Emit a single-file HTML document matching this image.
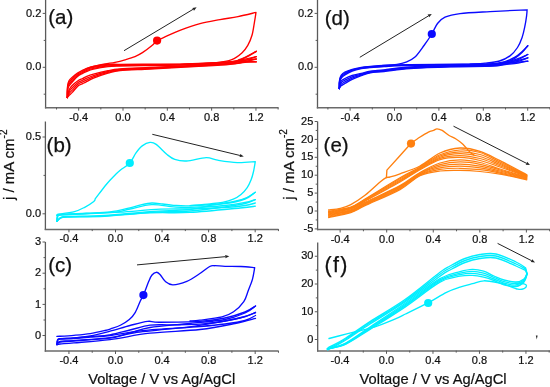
<!DOCTYPE html>
<html><head><meta charset="utf-8"><style>
html,body{margin:0;padding:0;background:#fff;width:550px;height:387px;overflow:hidden;position:relative;font-family:"Liberation Sans", sans-serif;}
</style></head><body>
<svg width="550" height="387" viewBox="0 0 550 387" style="position:absolute;left:0;top:0;will-change:transform" font-family='"Liberation Sans", sans-serif' fill="#111">
<line x1="45.60" y1="0.00" x2="45.60" y2="108.40" stroke="#5a5a5a" stroke-width="1.3"/>
<line x1="44.90" y1="107.80" x2="278.50" y2="107.80" stroke="#6a6a6a" stroke-width="1.5"/>
<line x1="42.70" y1="13.40" x2="45.50" y2="13.40" stroke="#5a5a5a" stroke-width="1"/>
<text x="41.30" y="16.50" font-size="11.00" text-anchor="end" stroke="#111" stroke-width="0.22">0.2</text>
<line x1="42.70" y1="67.30" x2="45.50" y2="67.30" stroke="#5a5a5a" stroke-width="1"/>
<text x="41.30" y="70.40" font-size="11.00" text-anchor="end" stroke="#111" stroke-width="0.22">0.0</text>
<line x1="43.70" y1="40.40" x2="45.50" y2="40.40" stroke="#5a5a5a" stroke-width="1"/>
<line x1="43.70" y1="94.20" x2="45.50" y2="94.20" stroke="#5a5a5a" stroke-width="1"/>
<line x1="56.52" y1="107.50" x2="56.52" y2="109.50" stroke="#5a5a5a" stroke-width="1"/>
<line x1="78.68" y1="107.50" x2="78.68" y2="110.70" stroke="#5a5a5a" stroke-width="1"/>
<text x="78.68" y="120.70" font-size="11.00" text-anchor="middle" stroke="#111" stroke-width="0.22">-0.4</text>
<line x1="100.84" y1="107.50" x2="100.84" y2="109.50" stroke="#5a5a5a" stroke-width="1"/>
<line x1="123.00" y1="107.50" x2="123.00" y2="110.70" stroke="#5a5a5a" stroke-width="1"/>
<text x="123.00" y="120.70" font-size="11.00" text-anchor="middle" stroke="#111" stroke-width="0.22">0.0</text>
<line x1="145.16" y1="107.50" x2="145.16" y2="109.50" stroke="#5a5a5a" stroke-width="1"/>
<line x1="167.32" y1="107.50" x2="167.32" y2="110.70" stroke="#5a5a5a" stroke-width="1"/>
<text x="167.32" y="120.70" font-size="11.00" text-anchor="middle" stroke="#111" stroke-width="0.22">0.4</text>
<line x1="189.48" y1="107.50" x2="189.48" y2="109.50" stroke="#5a5a5a" stroke-width="1"/>
<line x1="211.64" y1="107.50" x2="211.64" y2="110.70" stroke="#5a5a5a" stroke-width="1"/>
<text x="211.64" y="120.70" font-size="11.00" text-anchor="middle" stroke="#111" stroke-width="0.22">0.8</text>
<line x1="233.80" y1="107.50" x2="233.80" y2="109.50" stroke="#5a5a5a" stroke-width="1"/>
<line x1="255.96" y1="107.50" x2="255.96" y2="110.70" stroke="#5a5a5a" stroke-width="1"/>
<text x="255.96" y="120.70" font-size="11.00" text-anchor="middle" stroke="#111" stroke-width="0.22">1.2</text>
<line x1="278.12" y1="107.50" x2="278.12" y2="109.50" stroke="#5a5a5a" stroke-width="1"/>
<line x1="45.40" y1="121.50" x2="45.40" y2="230.00" stroke="#5a5a5a" stroke-width="1.3"/>
<line x1="44.70" y1="229.40" x2="278.50" y2="229.40" stroke="#6a6a6a" stroke-width="1.5"/>
<line x1="42.50" y1="137.00" x2="45.30" y2="137.00" stroke="#5a5a5a" stroke-width="1"/>
<text x="41.10" y="140.10" font-size="11.00" text-anchor="end" stroke="#111" stroke-width="0.22">0.5</text>
<line x1="42.50" y1="213.80" x2="45.30" y2="213.80" stroke="#5a5a5a" stroke-width="1"/>
<text x="41.10" y="216.90" font-size="11.00" text-anchor="end" stroke="#111" stroke-width="0.22">0.0</text>
<line x1="43.50" y1="175.40" x2="45.30" y2="175.40" stroke="#5a5a5a" stroke-width="1"/>
<line x1="68.94" y1="229.10" x2="68.94" y2="232.30" stroke="#5a5a5a" stroke-width="1"/>
<text x="68.94" y="242.30" font-size="11.00" text-anchor="middle" stroke="#111" stroke-width="0.22">-0.4</text>
<line x1="92.22" y1="229.10" x2="92.22" y2="231.10" stroke="#5a5a5a" stroke-width="1"/>
<line x1="115.50" y1="229.10" x2="115.50" y2="232.30" stroke="#5a5a5a" stroke-width="1"/>
<text x="115.50" y="242.30" font-size="11.00" text-anchor="middle" stroke="#111" stroke-width="0.22">0.0</text>
<line x1="138.78" y1="229.10" x2="138.78" y2="231.10" stroke="#5a5a5a" stroke-width="1"/>
<line x1="162.06" y1="229.10" x2="162.06" y2="232.30" stroke="#5a5a5a" stroke-width="1"/>
<text x="162.06" y="242.30" font-size="11.00" text-anchor="middle" stroke="#111" stroke-width="0.22">0.4</text>
<line x1="185.34" y1="229.10" x2="185.34" y2="231.10" stroke="#5a5a5a" stroke-width="1"/>
<line x1="208.62" y1="229.10" x2="208.62" y2="232.30" stroke="#5a5a5a" stroke-width="1"/>
<text x="208.62" y="242.30" font-size="11.00" text-anchor="middle" stroke="#111" stroke-width="0.22">0.8</text>
<line x1="231.90" y1="229.10" x2="231.90" y2="231.10" stroke="#5a5a5a" stroke-width="1"/>
<line x1="255.18" y1="229.10" x2="255.18" y2="232.30" stroke="#5a5a5a" stroke-width="1"/>
<text x="255.18" y="242.30" font-size="11.00" text-anchor="middle" stroke="#111" stroke-width="0.22">1.2</text>
<line x1="278.46" y1="229.10" x2="278.46" y2="231.10" stroke="#5a5a5a" stroke-width="1"/>
<line x1="45.40" y1="242.00" x2="45.40" y2="351.70" stroke="#5a5a5a" stroke-width="1.3"/>
<line x1="44.70" y1="351.10" x2="278.50" y2="351.10" stroke="#6a6a6a" stroke-width="1.5"/>
<line x1="42.50" y1="242.00" x2="45.30" y2="242.00" stroke="#5a5a5a" stroke-width="1"/>
<text x="41.10" y="245.10" font-size="11.00" text-anchor="end" stroke="#111" stroke-width="0.22">3</text>
<line x1="42.50" y1="273.20" x2="45.30" y2="273.20" stroke="#5a5a5a" stroke-width="1"/>
<text x="41.10" y="276.30" font-size="11.00" text-anchor="end" stroke="#111" stroke-width="0.22">2</text>
<line x1="42.50" y1="304.40" x2="45.30" y2="304.40" stroke="#5a5a5a" stroke-width="1"/>
<text x="41.10" y="307.50" font-size="11.00" text-anchor="end" stroke="#111" stroke-width="0.22">1</text>
<line x1="42.50" y1="335.50" x2="45.30" y2="335.50" stroke="#5a5a5a" stroke-width="1"/>
<text x="41.10" y="338.60" font-size="11.00" text-anchor="end" stroke="#111" stroke-width="0.22">0</text>
<line x1="43.50" y1="257.60" x2="45.30" y2="257.60" stroke="#5a5a5a" stroke-width="1"/>
<line x1="43.50" y1="288.80" x2="45.30" y2="288.80" stroke="#5a5a5a" stroke-width="1"/>
<line x1="43.50" y1="320.00" x2="45.30" y2="320.00" stroke="#5a5a5a" stroke-width="1"/>
<line x1="68.94" y1="350.80" x2="68.94" y2="354.00" stroke="#5a5a5a" stroke-width="1"/>
<text x="68.94" y="364.00" font-size="11.00" text-anchor="middle" stroke="#111" stroke-width="0.22">-0.4</text>
<line x1="92.22" y1="350.80" x2="92.22" y2="352.80" stroke="#5a5a5a" stroke-width="1"/>
<line x1="115.50" y1="350.80" x2="115.50" y2="354.00" stroke="#5a5a5a" stroke-width="1"/>
<text x="115.50" y="364.00" font-size="11.00" text-anchor="middle" stroke="#111" stroke-width="0.22">0.0</text>
<line x1="138.78" y1="350.80" x2="138.78" y2="352.80" stroke="#5a5a5a" stroke-width="1"/>
<line x1="162.06" y1="350.80" x2="162.06" y2="354.00" stroke="#5a5a5a" stroke-width="1"/>
<text x="162.06" y="364.00" font-size="11.00" text-anchor="middle" stroke="#111" stroke-width="0.22">0.4</text>
<line x1="185.34" y1="350.80" x2="185.34" y2="352.80" stroke="#5a5a5a" stroke-width="1"/>
<line x1="208.62" y1="350.80" x2="208.62" y2="354.00" stroke="#5a5a5a" stroke-width="1"/>
<text x="208.62" y="364.00" font-size="11.00" text-anchor="middle" stroke="#111" stroke-width="0.22">0.8</text>
<line x1="231.90" y1="350.80" x2="231.90" y2="352.80" stroke="#5a5a5a" stroke-width="1"/>
<line x1="255.18" y1="350.80" x2="255.18" y2="354.00" stroke="#5a5a5a" stroke-width="1"/>
<text x="255.18" y="364.00" font-size="11.00" text-anchor="middle" stroke="#111" stroke-width="0.22">1.2</text>
<line x1="278.46" y1="350.80" x2="278.46" y2="352.80" stroke="#5a5a5a" stroke-width="1"/>
<line x1="317.50" y1="0.00" x2="317.50" y2="108.40" stroke="#5a5a5a" stroke-width="1.3"/>
<line x1="316.80" y1="107.80" x2="550.00" y2="107.80" stroke="#6a6a6a" stroke-width="1.5"/>
<line x1="314.60" y1="13.40" x2="317.40" y2="13.40" stroke="#5a5a5a" stroke-width="1"/>
<text x="313.20" y="16.50" font-size="11.00" text-anchor="end" stroke="#111" stroke-width="0.22">0.2</text>
<line x1="314.60" y1="67.30" x2="317.40" y2="67.30" stroke="#5a5a5a" stroke-width="1"/>
<text x="313.20" y="70.40" font-size="11.00" text-anchor="end" stroke="#111" stroke-width="0.22">0.0</text>
<line x1="315.60" y1="40.40" x2="317.40" y2="40.40" stroke="#5a5a5a" stroke-width="1"/>
<line x1="315.60" y1="94.20" x2="317.40" y2="94.20" stroke="#5a5a5a" stroke-width="1"/>
<line x1="327.90" y1="107.50" x2="327.90" y2="109.50" stroke="#5a5a5a" stroke-width="1"/>
<line x1="350.10" y1="107.50" x2="350.10" y2="110.70" stroke="#5a5a5a" stroke-width="1"/>
<text x="350.10" y="120.70" font-size="11.00" text-anchor="middle" stroke="#111" stroke-width="0.22">-0.4</text>
<line x1="372.30" y1="107.50" x2="372.30" y2="109.50" stroke="#5a5a5a" stroke-width="1"/>
<line x1="394.50" y1="107.50" x2="394.50" y2="110.70" stroke="#5a5a5a" stroke-width="1"/>
<text x="394.50" y="120.70" font-size="11.00" text-anchor="middle" stroke="#111" stroke-width="0.22">0.0</text>
<line x1="416.70" y1="107.50" x2="416.70" y2="109.50" stroke="#5a5a5a" stroke-width="1"/>
<line x1="438.90" y1="107.50" x2="438.90" y2="110.70" stroke="#5a5a5a" stroke-width="1"/>
<text x="438.90" y="120.70" font-size="11.00" text-anchor="middle" stroke="#111" stroke-width="0.22">0.4</text>
<line x1="461.10" y1="107.50" x2="461.10" y2="109.50" stroke="#5a5a5a" stroke-width="1"/>
<line x1="483.30" y1="107.50" x2="483.30" y2="110.70" stroke="#5a5a5a" stroke-width="1"/>
<text x="483.30" y="120.70" font-size="11.00" text-anchor="middle" stroke="#111" stroke-width="0.22">0.8</text>
<line x1="505.50" y1="107.50" x2="505.50" y2="109.50" stroke="#5a5a5a" stroke-width="1"/>
<line x1="527.70" y1="107.50" x2="527.70" y2="110.70" stroke="#5a5a5a" stroke-width="1"/>
<text x="527.70" y="120.70" font-size="11.00" text-anchor="middle" stroke="#111" stroke-width="0.22">1.2</text>
<line x1="549.90" y1="107.50" x2="549.90" y2="109.50" stroke="#5a5a5a" stroke-width="1"/>
<line x1="317.60" y1="121.50" x2="317.60" y2="230.20" stroke="#5a5a5a" stroke-width="1.3"/>
<line x1="316.90" y1="229.60" x2="550.00" y2="229.60" stroke="#6a6a6a" stroke-width="1.5"/>
<line x1="314.70" y1="121.50" x2="317.50" y2="121.50" stroke="#5a5a5a" stroke-width="1"/>
<text x="313.30" y="124.60" font-size="11.00" text-anchor="end" stroke="#111" stroke-width="0.22">25</text>
<line x1="314.70" y1="139.40" x2="317.50" y2="139.40" stroke="#5a5a5a" stroke-width="1"/>
<text x="313.30" y="142.50" font-size="11.00" text-anchor="end" stroke="#111" stroke-width="0.22">20</text>
<line x1="314.70" y1="157.30" x2="317.50" y2="157.30" stroke="#5a5a5a" stroke-width="1"/>
<text x="313.30" y="160.40" font-size="11.00" text-anchor="end" stroke="#111" stroke-width="0.22">15</text>
<line x1="314.70" y1="175.20" x2="317.50" y2="175.20" stroke="#5a5a5a" stroke-width="1"/>
<text x="313.30" y="178.30" font-size="11.00" text-anchor="end" stroke="#111" stroke-width="0.22">10</text>
<line x1="314.70" y1="193.10" x2="317.50" y2="193.10" stroke="#5a5a5a" stroke-width="1"/>
<text x="313.30" y="196.20" font-size="11.00" text-anchor="end" stroke="#111" stroke-width="0.22">5</text>
<line x1="314.70" y1="211.00" x2="317.50" y2="211.00" stroke="#5a5a5a" stroke-width="1"/>
<text x="313.30" y="214.10" font-size="11.00" text-anchor="end" stroke="#111" stroke-width="0.22">0</text>
<line x1="314.70" y1="228.90" x2="317.50" y2="228.90" stroke="#5a5a5a" stroke-width="1"/>
<text x="313.30" y="232.00" font-size="11.00" text-anchor="end" stroke="#111" stroke-width="0.22">-5</text>
<line x1="315.70" y1="130.45" x2="317.50" y2="130.45" stroke="#5a5a5a" stroke-width="1"/>
<line x1="315.70" y1="148.35" x2="317.50" y2="148.35" stroke="#5a5a5a" stroke-width="1"/>
<line x1="315.70" y1="166.25" x2="317.50" y2="166.25" stroke="#5a5a5a" stroke-width="1"/>
<line x1="315.70" y1="184.15" x2="317.50" y2="184.15" stroke="#5a5a5a" stroke-width="1"/>
<line x1="315.70" y1="202.05" x2="317.50" y2="202.05" stroke="#5a5a5a" stroke-width="1"/>
<line x1="315.70" y1="219.95" x2="317.50" y2="219.95" stroke="#5a5a5a" stroke-width="1"/>
<line x1="340.14" y1="229.30" x2="340.14" y2="232.50" stroke="#5a5a5a" stroke-width="1"/>
<text x="340.14" y="242.50" font-size="11.00" text-anchor="middle" stroke="#111" stroke-width="0.22">-0.4</text>
<line x1="363.42" y1="229.30" x2="363.42" y2="231.30" stroke="#5a5a5a" stroke-width="1"/>
<line x1="386.70" y1="229.30" x2="386.70" y2="232.50" stroke="#5a5a5a" stroke-width="1"/>
<text x="386.70" y="242.50" font-size="11.00" text-anchor="middle" stroke="#111" stroke-width="0.22">0.0</text>
<line x1="409.98" y1="229.30" x2="409.98" y2="231.30" stroke="#5a5a5a" stroke-width="1"/>
<line x1="433.26" y1="229.30" x2="433.26" y2="232.50" stroke="#5a5a5a" stroke-width="1"/>
<text x="433.26" y="242.50" font-size="11.00" text-anchor="middle" stroke="#111" stroke-width="0.22">0.4</text>
<line x1="456.54" y1="229.30" x2="456.54" y2="231.30" stroke="#5a5a5a" stroke-width="1"/>
<line x1="479.82" y1="229.30" x2="479.82" y2="232.50" stroke="#5a5a5a" stroke-width="1"/>
<text x="479.82" y="242.50" font-size="11.00" text-anchor="middle" stroke="#111" stroke-width="0.22">0.8</text>
<line x1="503.10" y1="229.30" x2="503.10" y2="231.30" stroke="#5a5a5a" stroke-width="1"/>
<line x1="526.38" y1="229.30" x2="526.38" y2="232.50" stroke="#5a5a5a" stroke-width="1"/>
<text x="526.38" y="242.50" font-size="11.00" text-anchor="middle" stroke="#111" stroke-width="0.22">1.2</text>
<line x1="549.66" y1="229.30" x2="549.66" y2="231.30" stroke="#5a5a5a" stroke-width="1"/>
<line x1="317.70" y1="242.60" x2="317.70" y2="351.50" stroke="#5a5a5a" stroke-width="1.3"/>
<line x1="317.00" y1="350.90" x2="550.00" y2="350.90" stroke="#6a6a6a" stroke-width="1.5"/>
<line x1="314.80" y1="256.25" x2="317.60" y2="256.25" stroke="#5a5a5a" stroke-width="1"/>
<text x="313.40" y="259.35" font-size="11.00" text-anchor="end" stroke="#111" stroke-width="0.22">30</text>
<line x1="314.80" y1="284.00" x2="317.60" y2="284.00" stroke="#5a5a5a" stroke-width="1"/>
<text x="313.40" y="287.10" font-size="11.00" text-anchor="end" stroke="#111" stroke-width="0.22">20</text>
<line x1="314.80" y1="311.75" x2="317.60" y2="311.75" stroke="#5a5a5a" stroke-width="1"/>
<text x="313.40" y="314.85" font-size="11.00" text-anchor="end" stroke="#111" stroke-width="0.22">10</text>
<line x1="314.80" y1="339.50" x2="317.60" y2="339.50" stroke="#5a5a5a" stroke-width="1"/>
<text x="313.40" y="342.60" font-size="11.00" text-anchor="end" stroke="#111" stroke-width="0.22">0</text>
<line x1="315.80" y1="270.12" x2="317.60" y2="270.12" stroke="#5a5a5a" stroke-width="1"/>
<line x1="315.80" y1="297.88" x2="317.60" y2="297.88" stroke="#5a5a5a" stroke-width="1"/>
<line x1="315.80" y1="325.62" x2="317.60" y2="325.62" stroke="#5a5a5a" stroke-width="1"/>
<line x1="340.02" y1="350.60" x2="340.02" y2="353.80" stroke="#5a5a5a" stroke-width="1"/>
<text x="340.02" y="363.80" font-size="11.00" text-anchor="middle" stroke="#111" stroke-width="0.22">-0.4</text>
<line x1="363.26" y1="350.60" x2="363.26" y2="352.60" stroke="#5a5a5a" stroke-width="1"/>
<line x1="386.50" y1="350.60" x2="386.50" y2="353.80" stroke="#5a5a5a" stroke-width="1"/>
<text x="386.50" y="363.80" font-size="11.00" text-anchor="middle" stroke="#111" stroke-width="0.22">0.0</text>
<line x1="409.74" y1="350.60" x2="409.74" y2="352.60" stroke="#5a5a5a" stroke-width="1"/>
<line x1="432.98" y1="350.60" x2="432.98" y2="353.80" stroke="#5a5a5a" stroke-width="1"/>
<text x="432.98" y="363.80" font-size="11.00" text-anchor="middle" stroke="#111" stroke-width="0.22">0.4</text>
<line x1="456.22" y1="350.60" x2="456.22" y2="352.60" stroke="#5a5a5a" stroke-width="1"/>
<line x1="479.46" y1="350.60" x2="479.46" y2="353.80" stroke="#5a5a5a" stroke-width="1"/>
<text x="479.46" y="363.80" font-size="11.00" text-anchor="middle" stroke="#111" stroke-width="0.22">0.8</text>
<line x1="502.70" y1="350.60" x2="502.70" y2="352.60" stroke="#5a5a5a" stroke-width="1"/>
<line x1="525.94" y1="350.60" x2="525.94" y2="353.80" stroke="#5a5a5a" stroke-width="1"/>
<text x="525.94" y="363.80" font-size="11.00" text-anchor="middle" stroke="#111" stroke-width="0.22">1.2</text>
<line x1="549.18" y1="350.60" x2="549.18" y2="352.60" stroke="#5a5a5a" stroke-width="1"/>
<text x="48.20" y="24.20" font-size="20.50" text-anchor="start" stroke="#111" stroke-width="0.25">(a)</text>
<text x="46.60" y="152.00" font-size="20.50" text-anchor="start" stroke="#111" stroke-width="0.25">(b)</text>
<text x="48.20" y="272.00" font-size="20.50" text-anchor="start" stroke="#111" stroke-width="0.25">(c)</text>
<text x="324.70" y="24.50" font-size="20.50" text-anchor="start" stroke="#111" stroke-width="0.25">(d)</text>
<text x="323.60" y="152.30" font-size="20.50" text-anchor="start" stroke="#111" stroke-width="0.25">(e)</text>
<text x="324.60" y="271.80" font-size="21.50" text-anchor="start" stroke="#111" stroke-width="0.25" letter-spacing="1.2">(f)</text>
<text transform="translate(13.90,164.80) rotate(-90)" font-size="15" text-anchor="middle" stroke="#111" stroke-width="0.22">j / mA cm<tspan font-size="10" dy="-6.5">-2</tspan></text>
<text transform="translate(293.80,164.40) rotate(-90)" font-size="15" text-anchor="middle" stroke="#111" stroke-width="0.22">j / mA cm<tspan font-size="10" dy="-6.5">-2</tspan></text>
<text x="88.20" y="384.00" font-size="14.70" text-anchor="start" stroke="#111" stroke-width="0.22">Voltage / V vs Ag/AgCl</text>
<text x="359.60" y="384.00" font-size="14.70" text-anchor="start" stroke="#111" stroke-width="0.22">Voltage / V vs Ag/AgCl</text>
<path d="M67.30,97.50 C67.35,95.58 67.32,88.78 67.60,86.00 C67.88,83.22 68.22,82.27 69.00,80.80 C69.78,79.33 70.88,78.48 72.30,77.20 C73.72,75.92 75.77,74.27 77.50,73.10 C79.23,71.93 81.32,70.92 82.70,70.20 C84.08,69.48 84.00,69.42 85.80,68.80 C87.60,68.18 89.80,67.22 93.50,66.50 C97.20,65.78 103.58,64.87 108.00,64.50 C112.42,64.13 113.00,64.35 120.00,64.30 C127.00,64.25 139.17,64.28 150.00,64.20 C160.83,64.12 172.00,64.18 185.00,63.80 C198.00,63.42 218.83,62.62 228.00,61.90 C237.17,61.18 235.28,61.27 240.00,59.50 C244.72,57.73 253.58,52.67 256.30,51.30" fill="none" stroke="#ff0000" stroke-width="1.35" stroke-linejoin="round" stroke-linecap="round" />
<path d="M67.30,97.50 C67.35,95.81 67.32,89.83 67.60,87.33 C67.88,84.84 68.22,83.96 69.00,82.53 C69.78,81.11 70.88,80.19 72.30,78.80 C73.72,77.41 75.77,75.46 77.50,74.20 C79.23,72.94 81.32,71.97 82.70,71.23 C84.08,70.50 84.00,70.44 85.80,69.80 C87.60,69.16 89.80,68.17 93.50,67.40 C97.20,66.63 103.58,65.62 108.00,65.20 C112.42,64.78 113.00,64.96 120.00,64.87 C127.00,64.77 139.17,64.75 150.00,64.63 C160.83,64.52 172.00,64.57 185.00,64.17 C198.00,63.76 218.83,62.87 228.00,62.20 C237.17,61.53 235.28,61.08 240.00,60.17 C244.72,59.25 253.58,57.28 256.30,56.70" fill="none" stroke="#ff0000" stroke-width="1.35" stroke-linejoin="round" stroke-linecap="round" />
<path d="M67.30,97.50 C67.35,96.03 67.32,90.87 67.60,88.67 C67.88,86.46 68.22,85.64 69.00,84.27 C69.78,82.89 70.88,81.89 72.30,80.40 C73.72,78.91 75.77,76.66 77.50,75.30 C79.23,73.94 81.32,73.02 82.70,72.27 C84.08,71.52 84.00,71.46 85.80,70.80 C87.60,70.14 89.80,69.12 93.50,68.30 C97.20,67.48 103.58,66.38 108.00,65.90 C112.42,65.42 113.00,65.57 120.00,65.43 C127.00,65.29 139.17,65.22 150.00,65.07 C160.83,64.92 172.00,64.96 185.00,64.53 C198.00,64.11 218.83,63.12 228.00,62.50 C237.17,61.88 235.28,61.42 240.00,60.83 C244.72,60.25 253.58,59.31 256.30,59.00" fill="none" stroke="#ff0000" stroke-width="1.35" stroke-linejoin="round" stroke-linecap="round" />
<path d="M67.30,97.50 C67.35,96.25 67.32,91.92 67.60,90.00 C67.88,88.08 68.22,87.33 69.00,86.00 C69.78,84.67 70.88,83.60 72.30,82.00 C73.72,80.40 75.77,77.85 77.50,76.40 C79.23,74.95 81.32,74.07 82.70,73.30 C84.08,72.53 84.00,72.48 85.80,71.80 C87.60,71.12 89.80,70.07 93.50,69.20 C97.20,68.33 103.58,67.13 108.00,66.60 C112.42,66.07 113.00,66.18 120.00,66.00 C127.00,65.82 139.17,65.68 150.00,65.50 C160.83,65.32 172.00,65.35 185.00,64.90 C198.00,64.45 218.83,63.37 228.00,62.80 C237.17,62.23 235.28,61.67 240.00,61.50 C244.72,61.33 253.58,61.75 256.30,61.80" fill="none" stroke="#ff0000" stroke-width="1.35" stroke-linejoin="round" stroke-linecap="round" />
<path d="M256.30,51.30 C254.42,52.38 249.72,55.77 245.00,57.80 C240.28,59.83 238.00,62.17 228.00,63.50 C218.00,64.83 198.00,65.13 185.00,65.80 C172.00,66.47 160.83,66.97 150.00,67.50 C139.17,68.03 127.00,68.47 120.00,69.00 C113.00,69.53 112.42,69.83 108.00,70.70 C103.58,71.57 97.20,73.17 93.50,74.20 C89.80,75.23 87.60,76.17 85.80,76.90 C84.00,77.63 84.00,77.95 82.70,78.60 C81.40,79.25 79.73,79.65 78.00,80.80 C76.27,81.95 73.80,83.97 72.30,85.50 C70.80,87.03 69.83,88.00 69.00,90.00 C68.17,92.00 67.58,96.25 67.30,97.50" fill="none" stroke="#ff0000" stroke-width="1.35" stroke-linejoin="round" stroke-linecap="round" />
<path d="M256.30,56.70 C254.42,57.30 249.72,59.11 245.00,60.30 C240.28,61.49 238.00,62.85 228.00,63.83 C218.00,64.82 198.00,65.51 185.00,66.20 C172.00,66.89 160.83,67.45 150.00,68.00 C139.17,68.55 127.00,68.91 120.00,69.50 C113.00,70.09 112.42,70.53 108.00,71.53 C103.58,72.54 97.20,74.35 93.50,75.53 C89.80,76.72 87.60,77.84 85.80,78.63 C84.00,79.42 84.00,79.62 82.70,80.27 C81.40,80.92 79.73,81.28 78.00,82.53 C76.27,83.79 73.80,86.25 72.30,87.80 C70.80,89.35 69.83,90.22 69.00,91.83 C68.17,93.45 67.58,96.56 67.30,97.50" fill="none" stroke="#ff0000" stroke-width="1.35" stroke-linejoin="round" stroke-linecap="round" />
<path d="M256.30,59.00 C254.42,59.43 249.72,60.74 245.00,61.60 C240.28,62.46 238.00,63.33 228.00,64.17 C218.00,65.00 198.00,65.88 185.00,66.60 C172.00,67.32 160.83,67.93 150.00,68.50 C139.17,69.07 127.00,69.36 120.00,70.00 C113.00,70.64 112.42,71.22 108.00,72.37 C103.58,73.51 97.20,75.53 93.50,76.87 C89.80,78.20 87.60,79.52 85.80,80.37 C84.00,81.21 84.00,81.28 82.70,81.93 C81.40,82.58 79.73,82.91 78.00,84.27 C76.27,85.63 73.80,88.53 72.30,90.10 C70.80,91.67 69.83,92.43 69.00,93.67 C68.17,94.90 67.58,96.86 67.30,97.50" fill="none" stroke="#ff0000" stroke-width="1.35" stroke-linejoin="round" stroke-linecap="round" />
<path d="M256.30,61.80 C254.42,61.90 249.72,61.95 245.00,62.40 C240.28,62.85 238.00,63.73 228.00,64.50 C218.00,65.27 198.00,66.25 185.00,67.00 C172.00,67.75 160.83,68.42 150.00,69.00 C139.17,69.58 127.00,69.80 120.00,70.50 C113.00,71.20 112.42,71.92 108.00,73.20 C103.58,74.48 97.20,76.72 93.50,78.20 C89.80,79.68 87.60,81.20 85.80,82.10 C84.00,83.00 84.00,82.95 82.70,83.60 C81.40,84.25 79.73,84.53 78.00,86.00 C76.27,87.47 73.80,90.82 72.30,92.40 C70.80,93.98 69.83,94.65 69.00,95.50 C68.17,96.35 67.58,97.17 67.30,97.50" fill="none" stroke="#ff0000" stroke-width="1.35" stroke-linejoin="round" stroke-linecap="round" />
<path d="M85.80,68.80 C87.08,68.42 90.30,67.30 93.50,66.50 C96.70,65.70 101.42,64.70 105.00,64.00 C108.58,63.30 111.67,63.00 115.00,62.30 C118.33,61.60 121.67,60.75 125.00,59.80 C128.33,58.85 132.03,57.83 135.00,56.60 C137.97,55.37 139.97,54.25 142.80,52.40 C145.63,50.55 149.62,47.47 152.00,45.50 C154.38,43.53 155.10,41.95 157.10,40.60 C159.10,39.25 160.10,39.15 164.00,37.40 C167.90,35.65 174.50,32.40 180.50,30.10 C186.50,27.80 193.42,25.35 200.00,23.60 C206.58,21.85 213.67,20.77 220.00,19.60 C226.33,18.43 232.00,17.80 238.00,16.60 C244.00,15.40 253.00,13.10 256.00,12.40 C255.75,13.97 255.17,17.98 254.50,21.80 C253.83,25.62 253.12,31.38 252.00,35.30 C250.88,39.22 249.48,42.37 247.80,45.30 C246.12,48.23 244.57,50.52 241.90,52.90 C239.23,55.28 236.28,57.92 231.80,59.60 C227.32,61.28 220.30,62.30 215.00,63.00 C209.70,63.70 202.50,63.67 200.00,63.80" fill="none" stroke="#ff0000" stroke-width="1.35" stroke-linejoin="round" stroke-linecap="round" />
<circle cx="157.10" cy="40.60" r="4.10" fill="#ff0000"/>
<line x1="124.00" y1="50.70" x2="193.17" y2="9.26" stroke="#222" stroke-width="1.00"/>
<path d="M196.60,7.20 L193.99,10.63 L192.35,7.88 Z" fill="#222"/>
<path d="M56.80,221.40 C56.88,220.58 56.85,217.65 57.30,216.50 C57.75,215.35 54.65,215.05 59.50,214.50 C64.35,213.95 77.98,213.62 86.40,213.20 C94.82,212.78 102.73,212.90 110.00,212.00 C117.27,211.10 124.85,209.00 130.00,207.80 C135.15,206.60 137.27,205.60 140.90,204.80 C144.53,204.00 148.17,203.13 151.80,203.00 C155.43,202.87 159.07,203.62 162.70,204.00 C166.33,204.38 169.05,205.00 173.60,205.30 C178.15,205.60 181.43,206.10 190.00,205.80 C198.57,205.50 215.83,204.63 225.00,203.50 C234.17,202.37 239.95,200.87 245.00,199.00 C250.05,197.13 253.58,193.42 255.30,192.30" fill="none" stroke="#00eeff" stroke-width="1.35" stroke-linejoin="round" stroke-linecap="round" />
<path d="M56.80,221.40 C56.92,220.63 56.97,217.90 57.50,216.80 C58.03,215.70 55.18,215.35 60.00,214.80 C64.82,214.25 77.23,213.93 86.40,213.50 C95.57,213.07 107.73,212.95 115.00,212.20 C122.27,211.45 123.87,210.27 130.00,209.00 C136.13,207.73 144.53,204.95 151.80,204.60 C159.07,204.25 167.23,206.43 173.60,206.90 C179.97,207.37 181.43,207.63 190.00,207.40 C198.57,207.17 215.83,206.32 225.00,205.50 C234.17,204.68 239.95,203.48 245.00,202.50 C250.05,201.52 253.58,200.08 255.30,199.60" fill="none" stroke="#00eeff" stroke-width="1.35" stroke-linejoin="round" stroke-linecap="round" />
<path d="M56.80,221.40 C56.97,220.67 57.18,218.07 57.80,217.00 C58.42,215.93 55.73,215.53 60.50,215.00 C65.27,214.47 76.48,214.27 86.40,213.80 C96.32,213.33 107.73,212.97 120.00,212.20 C132.27,211.43 148.33,209.77 160.00,209.20 C171.67,208.63 179.17,209.08 190.00,208.80 C200.83,208.52 215.83,208.05 225.00,207.50 C234.17,206.95 239.95,206.25 245.00,205.50 C250.05,204.75 253.58,203.42 255.30,203.00" fill="none" stroke="#00eeff" stroke-width="1.35" stroke-linejoin="round" stroke-linecap="round" />
<path d="M255.30,192.30 C253.92,193.17 250.55,195.97 247.00,197.50 C243.45,199.03 240.17,200.17 234.00,201.50 C227.83,202.83 217.33,204.17 210.00,205.50 C202.67,206.83 200.00,208.48 190.00,209.50 C180.00,210.52 164.25,210.63 150.00,211.60 C135.75,212.57 118.13,214.50 104.50,215.30 C90.87,216.10 75.47,216.05 68.20,216.40 C60.93,216.75 62.80,216.57 60.90,217.40 C59.00,218.23 57.48,220.73 56.80,221.40" fill="none" stroke="#00eeff" stroke-width="1.35" stroke-linejoin="round" stroke-linecap="round" />
<path d="M255.30,199.60 C253.58,200.25 250.05,202.30 245.00,203.50 C239.95,204.70 234.17,205.55 225.00,206.80 C215.83,208.05 202.50,210.08 190.00,211.00 C177.50,211.92 164.25,211.48 150.00,212.30 C135.75,213.12 118.13,215.15 104.50,215.90 C90.87,216.65 75.47,216.50 68.20,216.80 C60.93,217.10 62.80,216.93 60.90,217.70 C59.00,218.47 57.48,220.78 56.80,221.40" fill="none" stroke="#00eeff" stroke-width="1.35" stroke-linejoin="round" stroke-linecap="round" />
<path d="M255.30,206.20 C252.75,206.50 250.88,206.97 240.00,208.00 C229.12,209.03 205.00,211.58 190.00,212.40 C175.00,213.22 164.25,212.25 150.00,212.90 C135.75,213.55 118.13,215.60 104.50,216.30 C90.87,217.00 75.47,216.82 68.20,217.10 C60.93,217.38 62.80,217.28 60.90,218.00 C59.00,218.72 57.48,220.83 56.80,221.40" fill="none" stroke="#00eeff" stroke-width="1.35" stroke-linejoin="round" stroke-linecap="round" />
<path d="M57.30,214.40 C60.15,213.93 69.83,212.78 74.40,211.60 C78.97,210.42 81.47,208.98 84.70,207.30 C87.93,205.62 92.05,202.90 93.80,201.50 C95.55,200.10 94.97,199.33 95.20,198.90 C97.12,196.42 103.38,187.98 106.70,184.00 C110.02,180.02 112.80,177.33 115.10,175.00 C117.40,172.67 118.05,172.00 120.50,170.00 C122.95,168.00 127.22,165.85 129.80,163.00 C132.38,160.15 133.93,155.75 136.00,152.90 C138.07,150.05 139.87,147.65 142.20,145.90 C144.53,144.15 147.67,142.65 150.00,142.40 C152.33,142.15 153.37,142.38 156.20,144.40 C159.03,146.42 163.90,152.00 167.00,154.50 C170.10,157.00 171.55,158.32 174.80,159.40 C178.05,160.48 181.27,161.28 186.50,161.00 C191.73,160.72 201.02,157.83 206.20,157.70 C211.38,157.57 212.42,159.38 217.60,160.20 C222.78,161.02 231.02,162.37 237.30,162.60 C243.58,162.83 252.30,161.77 255.30,161.60 C254.98,163.33 254.10,168.97 253.40,172.00 C252.70,175.03 252.13,177.20 251.10,179.80 C250.07,182.40 248.88,185.15 247.20,187.60 C245.52,190.05 243.32,192.57 241.00,194.50 C238.68,196.43 236.40,197.90 233.30,199.20 C230.20,200.50 226.28,201.53 222.40,202.30 C218.52,203.07 215.40,203.25 210.00,203.80 C204.60,204.35 193.33,205.30 190.00,205.60" fill="none" stroke="#00eeff" stroke-width="1.35" stroke-linejoin="round" stroke-linecap="round" />
<circle cx="129.80" cy="163.00" r="4.10" fill="#00eeff"/>
<line x1="152.30" y1="134.30" x2="239.91" y2="155.46" stroke="#222" stroke-width="1.00"/>
<path d="M243.80,156.40 L239.54,157.02 L240.29,153.91 Z" fill="#222"/>
<path d="M57.00,344.50 C57.08,343.75 57.00,340.98 57.50,340.00 C58.00,339.02 57.28,338.93 60.00,338.60 C62.72,338.27 68.77,338.43 73.80,338.00 C78.83,337.57 84.17,337.13 90.20,336.00 C96.23,334.87 103.37,332.95 110.00,331.20 C116.63,329.45 123.73,327.13 130.00,325.50 C136.27,323.87 142.75,321.95 147.60,321.40 C152.45,320.85 150.37,322.20 159.10,322.20 C167.83,322.20 189.02,322.10 200.00,321.40 C210.98,320.70 217.50,319.57 225.00,318.00 C232.50,316.43 239.92,314.00 245.00,312.00 C250.08,310.00 253.75,307.00 255.50,306.00" fill="none" stroke="#0a0aff" stroke-width="1.35" stroke-linejoin="round" stroke-linecap="round" />
<path d="M57.00,344.50 C57.10,343.78 57.10,341.15 57.60,340.20 C58.10,339.25 57.30,339.13 60.00,338.80 C62.70,338.47 68.77,338.57 73.80,338.20 C78.83,337.83 84.17,337.17 90.20,336.60 C96.23,336.03 103.37,335.90 110.00,334.80 C116.63,333.70 123.33,331.60 130.00,330.00 C136.67,328.40 143.33,326.07 150.00,325.20 C156.67,324.33 161.67,324.97 170.00,324.80 C178.33,324.63 190.83,324.83 200.00,324.20 C209.17,323.57 217.50,322.28 225.00,321.00 C232.50,319.72 239.92,317.92 245.00,316.50 C250.08,315.08 253.75,313.17 255.50,312.50" fill="none" stroke="#0a0aff" stroke-width="1.35" stroke-linejoin="round" stroke-linecap="round" />
<path d="M57.00,344.50 C57.13,343.82 57.30,341.32 57.80,340.40 C58.30,339.48 57.33,339.32 60.00,339.00 C62.67,338.68 68.77,338.80 73.80,338.50 C78.83,338.20 84.17,337.70 90.20,337.20 C96.23,336.70 101.25,336.60 110.00,335.50 C118.75,334.40 127.70,332.10 142.70,330.60 C157.70,329.10 186.28,327.60 200.00,326.50 C213.72,325.40 217.50,325.00 225.00,324.00 C232.50,323.00 239.92,321.92 245.00,320.50 C250.08,319.08 253.75,316.33 255.50,315.50" fill="none" stroke="#0a0aff" stroke-width="1.35" stroke-linejoin="round" stroke-linecap="round" />
<path d="M255.50,306.00 C253.75,307.17 250.08,310.75 245.00,313.00 C239.92,315.25 234.17,317.75 225.00,319.50 C215.83,321.25 202.50,322.17 190.00,323.50 C177.50,324.83 160.00,325.92 150.00,327.50 C140.00,329.08 136.67,331.32 130.00,333.00 C123.33,334.68 119.37,336.33 110.00,337.60 C100.63,338.87 82.13,339.95 73.80,340.60 C65.47,341.25 62.80,340.85 60.00,341.50 C57.20,342.15 57.50,344.00 57.00,344.50" fill="none" stroke="#0a0aff" stroke-width="1.35" stroke-linejoin="round" stroke-linecap="round" />
<path d="M255.50,312.50 C252.92,313.42 247.58,316.17 240.00,318.00 C232.42,319.83 218.33,322.03 210.00,323.50 C201.67,324.97 202.58,325.25 190.00,326.80 C177.42,328.35 147.83,330.90 134.50,332.80 C121.17,334.70 120.12,336.83 110.00,338.20 C99.88,339.57 82.13,340.37 73.80,341.00 C65.47,341.63 62.80,341.42 60.00,342.00 C57.20,342.58 57.50,344.08 57.00,344.50" fill="none" stroke="#0a0aff" stroke-width="1.35" stroke-linejoin="round" stroke-linecap="round" />
<path d="M255.50,318.40 C252.08,319.25 244.25,321.65 235.00,323.50 C225.75,325.35 214.17,327.88 200.00,329.50 C185.83,331.12 165.00,331.52 150.00,333.20 C135.00,334.88 122.70,337.98 110.00,339.60 C97.30,341.22 82.13,342.17 73.80,342.90 C65.47,343.63 62.80,343.73 60.00,344.00 C57.20,344.27 57.50,344.42 57.00,344.50" fill="none" stroke="#0a0aff" stroke-width="1.35" stroke-linejoin="round" stroke-linecap="round" />
<path d="M56.90,336.40 C59.72,336.22 68.25,335.77 73.80,335.30 C79.35,334.83 85.00,334.40 90.20,333.60 C95.40,332.80 101.52,331.32 105.00,330.50 C108.48,329.68 108.47,329.62 111.10,328.70 C113.73,327.78 117.77,326.52 120.80,325.00 C123.83,323.48 126.88,321.72 129.30,319.60 C131.72,317.48 133.48,315.35 135.30,312.30 C137.12,309.25 138.85,304.17 140.20,301.30 C141.55,298.43 141.95,298.48 143.40,295.10 C144.85,291.72 147.47,284.35 148.90,281.00 C150.33,277.65 150.78,276.45 152.00,275.00 C153.22,273.55 154.87,272.38 156.20,272.30 C157.53,272.22 158.50,273.00 160.00,274.50 C161.50,276.00 163.07,279.58 165.20,281.30 C167.33,283.02 169.20,284.78 172.80,284.80 C176.40,284.82 182.35,283.23 186.80,281.40 C191.25,279.57 195.68,276.28 199.50,273.80 C203.32,271.32 207.15,267.85 209.70,266.50 C212.25,265.15 212.25,265.73 214.80,265.70 C217.35,265.67 220.65,266.17 225.00,266.30 C229.35,266.43 235.95,266.27 240.90,266.50 C245.85,266.73 252.40,267.50 254.70,267.70 C254.33,269.60 253.58,275.27 252.50,279.10 C251.42,282.93 249.65,286.95 248.20,290.70 C246.75,294.45 246.23,298.08 243.80,301.60 C241.37,305.12 237.23,309.25 233.60,311.80 C229.97,314.35 227.60,315.50 222.00,316.90 C216.40,318.30 205.33,319.52 200.00,320.20 C194.67,320.88 191.67,320.87 190.00,321.00" fill="none" stroke="#0a0aff" stroke-width="1.35" stroke-linejoin="round" stroke-linecap="round" />
<circle cx="143.40" cy="295.10" r="4.10" fill="#0a0aff"/>
<line x1="137.00" y1="264.90" x2="225.32" y2="256.67" stroke="#222" stroke-width="1.00"/>
<path d="M229.30,256.30 L225.47,258.26 L225.17,255.08 Z" fill="#222"/>
<path d="M339.30,88.50 C339.35,87.08 339.27,82.22 339.60,80.00 C339.93,77.78 340.42,76.53 341.30,75.20 C342.18,73.87 343.08,72.98 344.90,72.00 C346.72,71.02 349.47,70.07 352.20,69.30 C354.93,68.53 358.27,67.87 361.30,67.40 C364.33,66.93 366.62,66.82 370.40,66.50 C374.18,66.18 377.40,65.82 384.00,65.50 C390.60,65.18 399.00,64.80 410.00,64.60 C421.00,64.40 436.67,64.43 450.00,64.30 C463.33,64.17 480.83,64.25 490.00,63.80 C499.17,63.35 500.83,62.70 505.00,61.60 C509.17,60.50 512.17,58.83 515.00,57.20 C517.83,55.57 519.87,53.70 522.00,51.80 C524.13,49.90 526.83,46.80 527.80,45.80" fill="none" stroke="#0a0aff" stroke-width="1.35" stroke-linejoin="round" stroke-linecap="round" />
<path d="M339.30,88.50 C339.35,87.19 339.27,82.73 339.60,80.67 C339.93,78.61 340.42,77.41 341.30,76.13 C342.18,74.86 343.08,74.04 344.90,73.00 C346.72,71.96 349.47,70.73 352.20,69.87 C354.93,69.00 358.27,68.31 361.30,67.80 C364.33,67.29 366.62,67.16 370.40,66.83 C374.18,66.51 377.40,66.19 384.00,65.87 C390.60,65.54 399.00,65.09 410.00,64.87 C421.00,64.64 436.67,64.67 450.00,64.53 C463.33,64.40 480.83,64.46 490.00,64.07 C499.17,63.68 500.33,63.11 505.00,62.20 C509.67,61.29 514.20,59.88 518.00,58.60 C521.80,57.32 526.17,55.18 527.80,54.50" fill="none" stroke="#0a0aff" stroke-width="1.35" stroke-linejoin="round" stroke-linecap="round" />
<path d="M339.30,88.50 C339.35,87.31 339.27,83.24 339.60,81.33 C339.93,79.43 340.42,78.29 341.30,77.07 C342.18,75.84 343.08,75.11 344.90,74.00 C346.72,72.89 349.47,71.40 352.20,70.43 C354.93,69.47 358.27,68.74 361.30,68.20 C364.33,67.66 366.62,67.49 370.40,67.17 C374.18,66.84 377.40,66.57 384.00,66.23 C390.60,65.89 399.00,65.38 410.00,65.13 C421.00,64.89 436.67,64.90 450.00,64.77 C463.33,64.63 480.83,64.66 490.00,64.33 C499.17,64.01 500.33,63.46 505.00,62.80 C509.67,62.14 514.20,61.23 518.00,60.40 C521.80,59.57 526.17,58.23 527.80,57.80" fill="none" stroke="#0a0aff" stroke-width="1.35" stroke-linejoin="round" stroke-linecap="round" />
<path d="M339.30,88.50 C339.35,87.42 339.27,83.75 339.60,82.00 C339.93,80.25 340.42,79.17 341.30,78.00 C342.18,76.83 343.08,76.17 344.90,75.00 C346.72,73.83 349.47,72.07 352.20,71.00 C354.93,69.93 358.27,69.18 361.30,68.60 C364.33,68.02 366.62,67.83 370.40,67.50 C374.18,67.17 377.40,66.95 384.00,66.60 C390.60,66.25 399.00,65.67 410.00,65.40 C421.00,65.13 436.67,65.13 450.00,65.00 C463.33,64.87 480.83,64.88 490.00,64.60 C499.17,64.32 500.33,63.73 505.00,63.30 C509.67,62.87 514.20,62.37 518.00,62.00 C521.80,61.63 526.17,61.25 527.80,61.10" fill="none" stroke="#0a0aff" stroke-width="1.35" stroke-linejoin="round" stroke-linecap="round" />
<path d="M527.80,45.80 C526.83,46.93 524.13,50.53 522.00,52.60 C519.87,54.67 517.83,56.50 515.00,58.20 C512.17,59.90 508.83,61.67 505.00,62.80 C501.17,63.93 501.17,64.50 492.00,65.00 C482.83,65.50 463.67,65.47 450.00,65.80 C436.33,66.13 421.00,66.33 410.00,67.00 C399.00,67.67 390.60,69.10 384.00,69.80 C377.40,70.50 374.18,70.60 370.40,71.20 C366.62,71.80 364.33,72.68 361.30,73.40 C358.27,74.12 354.93,74.65 352.20,75.50 C349.47,76.35 346.80,77.50 344.90,78.50 C343.00,79.50 341.73,79.83 340.80,81.50 C339.87,83.17 339.55,87.33 339.30,88.50" fill="none" stroke="#0a0aff" stroke-width="1.35" stroke-linejoin="round" stroke-linecap="round" />
<path d="M527.80,54.50 C526.17,55.35 521.80,58.12 518.00,59.60 C514.20,61.08 509.33,62.43 505.00,63.40 C500.67,64.37 501.17,64.94 492.00,65.40 C482.83,65.86 463.67,65.78 450.00,66.13 C436.33,66.49 421.00,66.82 410.00,67.53 C399.00,68.24 390.60,69.70 384.00,70.40 C377.40,71.10 374.18,71.11 370.40,71.73 C366.62,72.36 364.33,73.32 361.30,74.17 C358.27,75.01 354.93,75.80 352.20,76.80 C349.47,77.80 346.80,79.13 344.90,80.17 C343.00,81.20 341.73,81.61 340.80,83.00 C339.87,84.39 339.55,87.58 339.30,88.50" fill="none" stroke="#0a0aff" stroke-width="1.35" stroke-linejoin="round" stroke-linecap="round" />
<path d="M527.80,57.80 C526.17,58.40 521.80,60.37 518.00,61.40 C514.20,62.43 509.33,63.27 505.00,64.00 C500.67,64.73 501.17,65.39 492.00,65.80 C482.83,66.21 463.67,66.09 450.00,66.47 C436.33,66.84 421.00,67.31 410.00,68.07 C399.00,68.82 390.60,70.30 384.00,71.00 C377.40,71.70 374.18,71.61 370.40,72.27 C366.62,72.92 364.33,73.96 361.30,74.93 C358.27,75.91 354.93,76.95 352.20,78.10 C349.47,79.25 346.80,80.77 344.90,81.83 C343.00,82.90 341.73,83.39 340.80,84.50 C339.87,85.61 339.55,87.83 339.30,88.50" fill="none" stroke="#0a0aff" stroke-width="1.35" stroke-linejoin="round" stroke-linecap="round" />
<path d="M527.80,61.10 C526.17,61.42 521.80,62.42 518.00,63.00 C514.20,63.58 509.33,64.07 505.00,64.60 C500.67,65.13 501.17,65.83 492.00,66.20 C482.83,66.57 463.67,66.40 450.00,66.80 C436.33,67.20 421.00,67.80 410.00,68.60 C399.00,69.40 390.60,70.90 384.00,71.60 C377.40,72.30 374.18,72.12 370.40,72.80 C366.62,73.48 364.33,74.60 361.30,75.70 C358.27,76.80 354.93,78.10 352.20,79.40 C349.47,80.70 346.80,82.40 344.90,83.50 C343.00,84.60 341.73,85.17 340.80,86.00 C339.87,86.83 339.55,88.08 339.30,88.50" fill="none" stroke="#0a0aff" stroke-width="1.35" stroke-linejoin="round" stroke-linecap="round" />
<path d="M380.00,65.60 C382.83,65.40 392.67,64.97 397.00,64.40 C401.33,63.83 403.00,63.43 406.00,62.20 C409.00,60.97 412.00,59.78 415.00,57.00 C418.00,54.22 421.20,49.33 424.00,45.50 C426.80,41.67 429.55,37.67 431.80,34.00 C434.05,30.33 435.30,26.30 437.50,23.50 C439.70,20.70 441.25,18.85 445.00,17.20 C448.75,15.55 452.50,14.53 460.00,13.60 C467.50,12.67 478.82,12.23 490.00,11.60 C501.18,10.97 520.92,10.10 527.10,9.80 C527.02,10.80 526.98,12.98 526.60,15.80 C526.22,18.62 525.55,23.08 524.80,26.70 C524.05,30.32 523.32,34.03 522.10,37.50 C520.88,40.97 519.47,44.48 517.50,47.50 C515.53,50.52 513.30,53.35 510.30,55.60 C507.30,57.85 503.72,59.73 499.50,61.00 C495.28,62.27 489.92,62.67 485.00,63.20 C480.08,63.73 472.50,64.03 470.00,64.20" fill="none" stroke="#0a0aff" stroke-width="1.35" stroke-linejoin="round" stroke-linecap="round" />
<circle cx="431.80" cy="34.00" r="4.10" fill="#0a0aff"/>
<line x1="359.80" y1="57.30" x2="428.37" y2="15.96" stroke="#222" stroke-width="1.00"/>
<path d="M431.80,13.90 L429.20,17.34 L427.55,14.59 Z" fill="#222"/>
<path d="M328.60,210.00 C330.58,209.72 336.80,209.20 340.50,208.30 C344.20,207.40 346.72,206.77 350.80,204.60 C354.88,202.43 360.02,199.15 365.00,195.30 C369.98,191.45 377.13,184.45 380.70,181.50 C384.27,178.55 384.85,178.35 386.40,177.60 C387.95,176.85 387.73,177.63 390.00,177.00 C392.27,176.37 395.00,175.63 400.00,173.80 C405.00,171.97 413.33,169.47 420.00,166.00 C426.67,162.53 433.33,156.00 440.00,153.00 C446.67,150.00 453.33,148.27 460.00,148.00 C466.67,147.73 473.33,149.28 480.00,151.40 C486.67,153.52 492.20,156.80 500.00,160.70 C507.80,164.60 522.33,172.45 526.80,174.80" fill="none" stroke="#ff8010" stroke-width="1.35" stroke-linejoin="round" stroke-linecap="round" />
<path d="M328.60,211.20 C332.30,210.50 344.73,209.03 350.80,207.00 C356.87,204.97 356.80,203.87 365.00,199.00 C373.20,194.13 390.83,183.13 400.00,177.80 C409.17,172.47 413.33,170.83 420.00,167.00 C426.67,163.17 433.33,157.63 440.00,154.80 C446.67,151.97 453.33,150.38 460.00,150.00 C466.67,149.62 473.33,150.50 480.00,152.50 C486.67,154.50 492.20,158.20 500.00,162.00 C507.80,165.80 522.33,173.08 526.80,175.30" fill="none" stroke="#ff8010" stroke-width="1.20" stroke-linejoin="round" stroke-linecap="round" />
<path d="M328.60,211.70 C332.30,211.00 344.73,209.53 350.80,207.50 C356.87,205.47 356.80,204.33 365.00,199.55 C373.20,194.78 390.83,184.16 400.00,178.85 C409.17,173.54 413.33,171.51 420.00,167.70 C426.67,163.89 433.33,158.64 440.00,156.00 C446.67,153.36 453.33,152.10 460.00,151.85 C466.67,151.60 473.33,152.60 480.00,154.50 C486.67,156.40 492.20,159.73 500.00,163.25 C507.80,166.77 522.33,173.54 526.80,175.60" fill="none" stroke="#ff8010" stroke-width="1.20" stroke-linejoin="round" stroke-linecap="round" />
<path d="M328.60,212.20 C332.30,211.50 344.73,210.02 350.80,208.00 C356.87,205.98 356.80,204.78 365.00,200.10 C373.20,195.42 390.83,185.18 400.00,179.90 C409.17,174.62 413.33,172.18 420.00,168.40 C426.67,164.62 433.33,159.65 440.00,157.20 C446.67,154.75 453.33,153.82 460.00,153.70 C466.67,153.58 473.33,154.70 480.00,156.50 C486.67,158.30 492.20,161.27 500.00,164.50 C507.80,167.73 522.33,174.00 526.80,175.90" fill="none" stroke="#ff8010" stroke-width="1.20" stroke-linejoin="round" stroke-linecap="round" />
<path d="M328.60,212.70 C332.30,212.00 344.73,210.51 350.80,208.50 C356.87,206.49 356.80,205.24 365.00,200.65 C373.20,196.06 390.83,186.21 400.00,180.95 C409.17,175.69 413.33,172.86 420.00,169.10 C426.67,165.34 433.33,160.66 440.00,158.40 C446.67,156.14 453.33,155.53 460.00,155.55 C466.67,155.57 473.33,156.80 480.00,158.50 C486.67,160.20 492.20,162.80 500.00,165.75 C507.80,168.70 522.33,174.46 526.80,176.20" fill="none" stroke="#ff8010" stroke-width="1.20" stroke-linejoin="round" stroke-linecap="round" />
<path d="M328.60,213.20 C332.30,212.50 344.73,211.00 350.80,209.00 C356.87,207.00 356.80,205.70 365.00,201.20 C373.20,196.70 390.83,187.23 400.00,182.00 C409.17,176.77 413.33,173.53 420.00,169.80 C426.67,166.07 433.33,161.67 440.00,159.60 C446.67,157.53 453.33,157.25 460.00,157.40 C466.67,157.55 473.33,158.90 480.00,160.50 C486.67,162.10 492.20,164.33 500.00,167.00 C507.80,169.67 522.33,174.92 526.80,176.50" fill="none" stroke="#ff8010" stroke-width="1.20" stroke-linejoin="round" stroke-linecap="round" />
<path d="M328.60,213.80 C332.30,213.13 344.73,211.70 350.80,209.80 C356.87,207.90 356.80,206.43 365.00,202.40 C373.20,198.37 390.83,190.60 400.00,185.60 C409.17,180.60 413.33,176.17 420.00,172.40 C426.67,168.63 433.33,165.10 440.00,163.00 C446.67,160.90 453.33,159.88 460.00,159.80 C466.67,159.72 473.33,160.97 480.00,162.50 C486.67,164.03 492.20,166.58 500.00,169.00 C507.80,171.42 522.33,175.67 526.80,177.00" fill="none" stroke="#ff8010" stroke-width="1.20" stroke-linejoin="round" stroke-linecap="round" />
<path d="M328.60,214.56 C332.30,213.86 344.73,212.28 350.80,210.36 C356.87,208.44 356.80,207.05 365.00,203.06 C373.20,199.07 390.83,191.40 400.00,186.40 C409.17,181.40 413.33,176.71 420.00,173.08 C426.67,169.45 433.33,166.46 440.00,164.60 C446.67,162.74 453.33,161.97 460.00,161.92 C466.67,161.87 473.33,162.95 480.00,164.30 C486.67,165.65 492.20,167.81 500.00,170.02 C507.80,172.23 522.33,176.30 526.80,177.56" fill="none" stroke="#ff8010" stroke-width="1.20" stroke-linejoin="round" stroke-linecap="round" />
<path d="M328.60,215.32 C332.30,214.59 344.73,212.85 350.80,210.92 C356.87,208.99 356.80,207.67 365.00,203.72 C373.20,199.77 390.83,192.19 400.00,187.20 C409.17,182.21 413.33,177.26 420.00,173.76 C426.67,170.26 433.33,167.82 440.00,166.20 C446.67,164.58 453.33,164.06 460.00,164.04 C466.67,164.02 473.33,164.93 480.00,166.10 C486.67,167.27 492.20,169.04 500.00,171.04 C507.80,173.04 522.33,176.94 526.80,178.12" fill="none" stroke="#ff8010" stroke-width="1.20" stroke-linejoin="round" stroke-linecap="round" />
<path d="M328.60,216.08 C332.30,215.31 344.73,213.43 350.80,211.48 C356.87,209.53 356.80,208.29 365.00,204.38 C373.20,200.47 390.83,192.99 400.00,188.00 C409.17,183.01 413.33,177.81 420.00,174.44 C426.67,171.07 433.33,169.18 440.00,167.80 C446.67,166.42 453.33,166.14 460.00,166.16 C466.67,166.18 473.33,166.92 480.00,167.90 C486.67,168.88 492.20,170.26 500.00,172.06 C507.80,173.86 522.33,177.58 526.80,178.68" fill="none" stroke="#ff8010" stroke-width="1.20" stroke-linejoin="round" stroke-linecap="round" />
<path d="M328.60,216.84 C332.30,216.04 344.73,214.01 350.80,212.04 C356.87,210.07 356.80,208.91 365.00,205.04 C373.20,201.17 390.83,193.79 400.00,188.80 C409.17,183.81 413.33,178.35 420.00,175.12 C426.67,171.89 433.33,170.54 440.00,169.40 C446.67,168.26 453.33,168.23 460.00,168.28 C466.67,168.33 473.33,168.90 480.00,169.70 C486.67,170.50 492.20,171.49 500.00,173.08 C507.80,174.67 522.33,178.21 526.80,179.24" fill="none" stroke="#ff8010" stroke-width="1.20" stroke-linejoin="round" stroke-linecap="round" />
<path d="M328.60,217.60 C332.30,216.77 344.73,214.58 350.80,212.60 C356.87,210.62 356.80,209.53 365.00,205.70 C373.20,201.87 390.83,194.58 400.00,189.60 C409.17,184.62 413.33,178.90 420.00,175.80 C426.67,172.70 433.33,171.90 440.00,171.00 C446.67,170.10 453.33,170.32 460.00,170.40 C466.67,170.48 473.33,170.88 480.00,171.50 C486.67,172.12 492.20,172.72 500.00,174.10 C507.80,175.48 522.33,178.85 526.80,179.80" fill="none" stroke="#ff8010" stroke-width="1.20" stroke-linejoin="round" stroke-linecap="round" />
<path d="M386.40,177.60 C386.48,176.35 386.82,171.35 386.90,170.10 C390.93,165.63 407.07,147.77 411.10,143.30 C412.53,142.30 416.82,139.17 419.70,137.30 C422.58,135.43 426.10,133.25 428.40,132.10 C430.70,130.95 432.07,130.95 433.50,130.40 C434.93,129.85 435.55,128.80 437.00,128.80 C438.45,128.80 440.18,129.28 442.20,130.40 C444.22,131.52 446.80,134.07 449.10,135.50 C451.40,136.93 453.70,137.55 456.00,139.00 C458.30,140.45 460.60,142.03 462.90,144.20 C465.20,146.37 467.95,150.20 469.80,152.00 C471.65,153.80 473.30,154.50 474.00,155.00" fill="none" stroke="#ff8010" stroke-width="1.35" stroke-linejoin="round" stroke-linecap="round" />
<circle cx="411.00" cy="143.60" r="4.10" fill="#ff8010"/>
<line x1="453.50" y1="126.20" x2="526.43" y2="163.29" stroke="#222" stroke-width="1.00"/>
<path d="M530.00,165.10 L525.71,164.71 L527.16,161.86 Z" fill="#222"/>
<path d="M327.80,348.00 C330.80,346.33 338.77,342.40 345.80,338.00 C352.83,333.60 360.13,328.02 370.00,321.60 C379.87,315.18 393.33,307.73 405.00,299.50 C416.67,291.27 432.50,277.78 440.00,272.20 C447.50,266.62 445.83,268.28 450.00,266.00 C454.17,263.72 460.00,260.42 465.00,258.50 C470.00,256.58 474.83,255.25 480.00,254.50 C485.17,253.75 490.00,252.75 496.00,254.00 C502.00,255.25 511.07,259.70 516.00,262.00 C520.93,264.30 524.00,266.83 525.60,267.80 C525.83,268.72 526.77,272.38 527.00,273.30" fill="none" stroke="#00eeff" stroke-width="1.35" stroke-linejoin="round" stroke-linecap="round" />
<path d="M327.80,349.00 C330.80,347.33 338.77,343.37 345.80,339.00 C352.83,334.63 360.13,329.18 370.00,322.80 C379.87,316.42 393.33,308.80 405.00,300.70 C416.67,292.60 432.50,279.65 440.00,274.20 C447.50,268.75 445.83,270.28 450.00,268.00 C454.17,265.72 460.00,262.42 465.00,260.50 C470.00,258.58 474.83,257.25 480.00,256.50 C485.17,255.75 490.00,254.75 496.00,256.00 C502.00,257.25 511.07,261.82 516.00,264.00 C520.93,266.18 524.00,268.25 525.60,269.10 C525.83,269.87 526.77,272.93 527.00,273.70" fill="none" stroke="#00eeff" stroke-width="1.35" stroke-linejoin="round" stroke-linecap="round" />
<path d="M327.80,350.00 C330.80,348.33 338.77,344.33 345.80,340.00 C352.83,335.67 360.13,330.35 370.00,324.00 C379.87,317.65 393.33,309.87 405.00,301.90 C416.67,293.93 432.50,281.52 440.00,276.20 C447.50,270.88 445.83,272.28 450.00,270.00 C454.17,267.72 460.00,264.42 465.00,262.50 C470.00,260.58 474.83,259.25 480.00,258.50 C485.17,257.75 490.00,256.75 496.00,258.00 C502.00,259.25 511.07,263.93 516.00,266.00 C520.93,268.07 524.00,269.67 525.60,270.40 C525.83,271.02 526.77,273.48 527.00,274.10" fill="none" stroke="#00eeff" stroke-width="1.35" stroke-linejoin="round" stroke-linecap="round" />
<path d="M527.00,273.30 C526.50,274.25 525.83,277.55 524.00,279.00 C522.17,280.45 519.33,281.83 516.00,282.00 C512.67,282.17 507.67,281.00 504.00,280.00 C500.33,279.00 497.40,277.47 494.00,276.00 C490.60,274.53 487.20,272.30 483.60,271.20 C480.00,270.10 476.33,269.32 472.40,269.40 C468.47,269.48 465.40,270.17 460.00,271.70 C454.60,273.23 449.17,273.30 440.00,278.60 C430.83,283.90 416.67,295.43 405.00,303.50 C393.33,311.57 379.87,320.42 370.00,327.00 C360.13,333.58 352.63,339.40 345.80,343.00 C338.97,346.60 332.00,347.67 329.00,348.60 C326.00,349.53 328.00,348.60 327.80,348.60" fill="none" stroke="#00eeff" stroke-width="1.35" stroke-linejoin="round" stroke-linecap="round" />
<path d="M527.00,273.70 C526.50,274.75 525.83,278.37 524.00,280.00 C522.17,281.63 519.33,283.23 516.00,283.50 C512.67,283.77 507.67,282.60 504.00,281.60 C500.33,280.60 497.40,278.90 494.00,277.50 C490.60,276.10 487.20,274.22 483.60,273.20 C480.00,272.18 476.33,271.40 472.40,271.40 C468.47,271.40 465.40,271.80 460.00,273.20 C454.60,274.60 449.17,274.55 440.00,279.80 C430.83,285.05 416.67,296.70 405.00,304.70 C393.33,312.70 379.87,321.35 370.00,327.80 C360.13,334.25 352.63,339.93 345.80,343.40 C338.97,346.87 332.00,347.73 329.00,348.60 C326.00,349.47 328.00,348.60 327.80,348.60" fill="none" stroke="#00eeff" stroke-width="1.35" stroke-linejoin="round" stroke-linecap="round" />
<path d="M527.00,274.10 C526.50,275.25 525.83,279.18 524.00,281.00 C522.17,282.82 519.33,284.63 516.00,285.00 C512.67,285.37 507.67,284.20 504.00,283.20 C500.33,282.20 497.40,280.33 494.00,279.00 C490.60,277.67 487.20,276.13 483.60,275.20 C480.00,274.27 476.33,273.48 472.40,273.40 C468.47,273.32 465.40,273.43 460.00,274.70 C454.60,275.97 449.17,275.80 440.00,281.00 C430.83,286.20 416.67,297.97 405.00,305.90 C393.33,313.83 379.87,322.28 370.00,328.60 C360.13,334.92 352.63,340.47 345.80,343.80 C338.97,347.13 332.00,347.80 329.00,348.60 C326.00,349.40 328.00,348.60 327.80,348.60" fill="none" stroke="#00eeff" stroke-width="1.35" stroke-linejoin="round" stroke-linecap="round" />
<path d="M527.00,274.50 C526.50,275.75 525.83,280.00 524.00,282.00 C522.17,284.00 519.33,286.03 516.00,286.50 C512.67,286.97 507.67,285.80 504.00,284.80 C500.33,283.80 497.40,281.77 494.00,280.50 C490.60,279.23 487.20,278.05 483.60,277.20 C480.00,276.35 476.33,275.57 472.40,275.40 C468.47,275.23 465.40,275.07 460.00,276.20 C454.60,277.33 449.17,277.05 440.00,282.20 C430.83,287.35 416.67,299.23 405.00,307.10 C393.33,314.97 379.87,323.22 370.00,329.40 C360.13,335.58 352.63,341.00 345.80,344.20 C338.97,347.40 332.00,347.87 329.00,348.60 C326.00,349.33 328.00,348.60 327.80,348.60" fill="none" stroke="#00eeff" stroke-width="1.35" stroke-linejoin="round" stroke-linecap="round" />
<path d="M329.00,338.50 C331.80,337.78 340.83,335.45 345.80,334.20 C350.77,332.95 354.05,332.18 358.80,331.00 C363.55,329.82 369.10,328.73 374.30,327.10 C379.50,325.47 384.80,323.38 390.00,321.20 C395.20,319.02 399.10,317.08 405.50,314.00 C411.90,310.92 421.57,306.32 428.40,302.70 C435.23,299.08 441.23,294.88 446.50,292.30 C451.77,289.72 455.68,288.63 460.00,287.20 C464.32,285.77 468.40,284.77 472.40,283.70 C476.40,282.63 479.50,280.92 484.00,280.80 C488.50,280.68 495.73,282.33 499.40,283.00 C503.07,283.67 502.90,283.77 506.00,284.80 C509.10,285.83 515.00,288.57 518.00,289.20 C521.00,289.83 522.58,289.17 524.00,288.60 C525.42,288.03 526.50,286.60 526.50,285.80 C526.50,285.00 525.92,284.23 524.00,283.80 C522.08,283.37 516.50,283.30 515.00,283.20" fill="none" stroke="#00eeff" stroke-width="1.35" stroke-linejoin="round" stroke-linecap="round" />
<circle cx="428.20" cy="303.00" r="4.10" fill="#00eeff"/>
<line x1="497.60" y1="243.40" x2="531.54" y2="260.68" stroke="#222" stroke-width="1.00"/>
<path d="M535.10,262.50 L530.81,262.11 L532.26,259.26 Z" fill="#222"/>
<path d="M535.8,335.5 L537.6,335.5 L536.8,339.5 Z" fill="#222"/>
</svg>
</body></html>
